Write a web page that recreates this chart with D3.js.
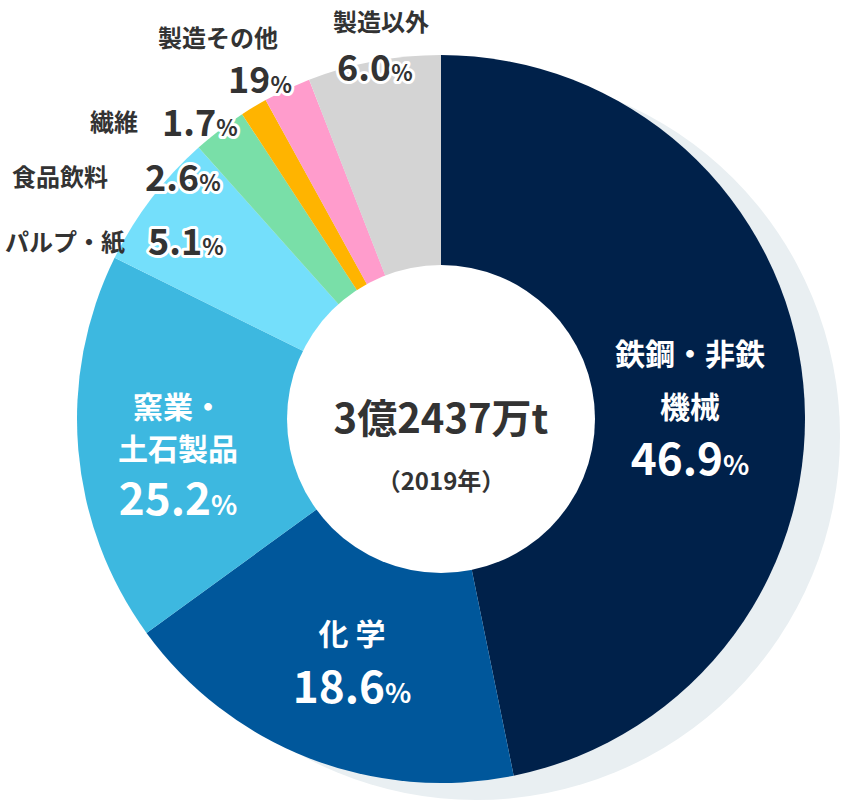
<!DOCTYPE html>
<html><head><meta charset="utf-8">
<script src="https://cdn.jsdelivr.net/npm/d3@7"></script>
<style>body{margin:0;background:#fff}svg{display:block;font-family:"Noto Sans CJK JP","Noto Sans",sans-serif;font-weight:700}</style>
</head><body><svg id="c" width="846" height="809"></svg>
<script>
const categories = ["鉄鋼・非鉄機械","化学","窯業・土石製品","パルプ・紙","食品飲料","繊維","製造その他","製造以外"];
const labelValues = ["46.9","18.6","25.2","5.1","2.6","1.7","19","6.0"];
// arc shares as drawn in the picture
const shares = [46.8,18.2,17.3,6.1,2.4,1.2,2.1,5.9];
const colors = ["#00214a","#00579b","#3db8e0","#74dffb","#79dfa8","#ffb400","#ff9ccc","#d4d4d4"];

const svg = d3.select("#c");
const cx = 441, cy = 419, R = 364, r0 = 154;
svg.append("circle").attr("cx",cx+35).attr("cy",cy+17).attr("r",R).attr("fill","#e9eff2");
const pie = d3.pie().sort(null).value(d=>d)(shares);
const arc = d3.arc().innerRadius(0).outerRadius(R);
const g = svg.append("g").attr("transform",`translate(${cx},${cy})`);
g.selectAll("path").data(pie).join("path").attr("d",arc).attr("fill",(d,i)=>colors[i]);
g.append("circle").attr("r",r0).attr("fill","#fff");

function pct(sel, v, size){
  sel.append("tspan").text(v).attr("font-size",size);
  sel.append("tspan").text("%").attr("font-size",size*0.62);
}
// inside labels
const inside = [
  {lines:["鉄鋼・非鉄","機械"], x:690, y:[365,418], vy:475},
  {lines:["化 学"], x:352, y:[645], vy:703},
  {lines:["窯業・","土石製品"], x:178, y:[418,460], vy:515}
];
inside.forEach((o,i)=>{
  o.lines.forEach((l,j)=>svg.append("text").attr("x",o.x).attr("y",o.y[j]).attr("text-anchor","middle").attr("fill","#fff").attr("font-size",30).text(l));
  pct(svg.append("text").attr("x",o.x).attr("y",o.vy).attr("text-anchor","middle").attr("fill","#fff"), labelValues[i], 44);
});
// outside labels
const outside = [
  {i:3, name:"パルプ・紙", nx:5, ny:251, vx:148, vy:255},
  {i:4, name:"食品飲料", nx:12, ny:186, vx:145, vy:191},
  {i:5, name:"繊維", nx:90, ny:131, vx:162, vy:136},
  {i:6, name:"製造その他", nx:158, ny:47, vx:228, vy:93},
  {i:7, name:"製造以外", nx:333, ny:31, vx:337, vy:81}
];
outside.forEach(o=>{
  svg.append("text").attr("x",o.nx).attr("y",o.ny).attr("fill","#333").attr("font-size",24).text(o.name);
  const t = svg.append("text").attr("x",o.vx).attr("y",o.vy).attr("fill","#333")
    .attr("stroke","#fff").attr("stroke-width",6).attr("paint-order","stroke").attr("stroke-linejoin","round");
  pct(t, labelValues[o.i], 36);
});
svg.append("text").attr("x",cx).attr("y",433).attr("text-anchor","middle").attr("fill","#333").attr("font-size",40).text("3億2437万t");
svg.append("text").attr("x",cx).attr("y",490).attr("text-anchor","middle").attr("fill","#333").attr("font-size",24).text("（2019年）");
</script></body></html>
